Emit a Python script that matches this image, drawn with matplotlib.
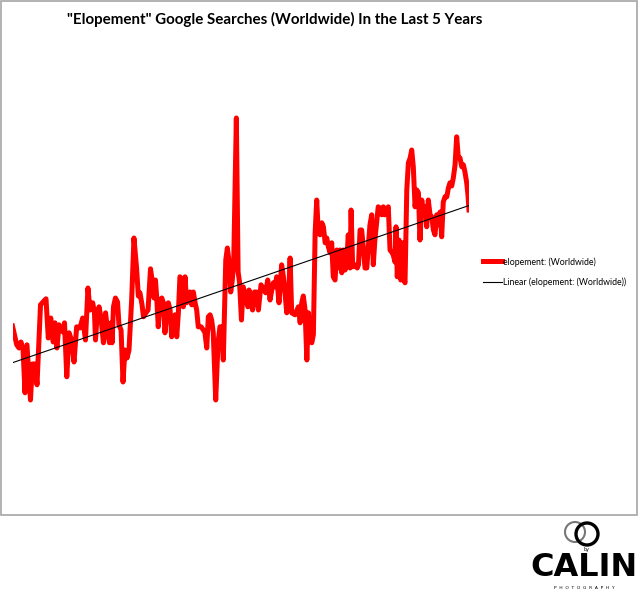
import matplotlib
matplotlib.use('Agg')

import numpy as np
import matplotlib.pyplot as plt
from matplotlib.patches import Rectangle, Ellipse

# weekly search interest (x = week index, 5 years)
weeks = [
    0.0, 2.4, 3.7, 4.8, 6.0, 7.1, 8.2, 10.2, 11.3, 12.8,
    13.9, 15.9, 17.3, 19.0, 20.3, 21.7, 23.1, 24.1, 25.2, 26.4,
    27.5, 28.7, 29.5, 30.8, 32.1, 33.5, 34.9, 36.4, 38.3, 39.8,
    41.4, 42.8, 44.0, 45.5, 46.5, 47.1, 47.9, 49.1, 50.2, 51.6,
    52.8, 53.9, 55.0, 55.9, 56.5, 57.3, 58.4, 59.6, 60.4, 61.6,
    62.7, 63.8, 65.0, 66.1, 67.6, 68.9, 70.4, 71.4, 72.3, 73.5,
    74.3, 75.7, 76.9, 78.3, 79.2, 80.3, 81.1, 81.8, 82.7, 83.7,
    84.7, 85.6, 86.5, 87.5, 88.4, 89.4, 90.3, 91.2, 92.2, 93.2,
    94.1, 95.0, 96.0, 96.9, 97.9, 98.8, 99.7, 100.7, 101.7, 102.6,
    103.6, 104.5, 105.4, 107.0, 108.3, 109.2, 110.2, 111.1, 112.1, 113.0,
    113.9, 115.3, 116.2, 116.8, 117.7, 118.7, 119.6, 121.0, 121.9, 122.9,
    123.8, 124.7, 125.5, 127.0, 128.0, 128.8, 129.9, 130.9, 132.2, 133.5,
    134.2, 135.3, 136.2, 137.3, 138.4, 139.5, 141.0, 142.1, 143.6, 144.8,
    146.1, 147.1, 148.0, 148.9, 149.9, 151.2, 152.7, 153.7, 154.6, 155.6,
    156.5, 157.5, 158.4, 160.3, 161.4, 162.2, 163.2, 164.1, 165.0, 166.0,
    167.0, 167.9, 168.9, 169.8, 170.7, 171.7, 172.6, 173.5, 174.5, 175.5,
    176.4, 177.4, 178.3, 179.2, 180.2, 181.1, 182.0, 183.0, 184.0, 184.9,
    185.8, 186.8, 187.7, 188.7, 189.6, 190.5, 191.5, 192.1, 193.0, 194.3,
    195.6, 196.3, 197.2, 198.1, 199.0, 200.0, 201.0, 201.9, 202.8, 203.8,
    204.7, 205.6, 206.6, 207.5, 208.5, 209.5, 210.4, 211.3, 212.3, 213.2,
    214.2, 215.1, 216.0, 217.0, 217.6, 218.3, 219.3, 220.3, 221.2, 222.1,
    222.7, 223.7, 224.6, 225.6, 226.5, 227.4, 228.4, 229.4, 230.3, 231.2,
    232.2, 233.1, 234.1, 235.0, 235.9, 236.9, 237.9, 238.8, 239.7, 240.7,
    241.6, 242.6, 243.5, 244.4, 245.4, 246.4, 247.3, 248.2, 249.2, 250.1,
    251.1, 252.0, 252.9, 253.9, 254.9, 255.8, 256.7, 257.7, 258.4, 259.0,
]

interest = [
    48.0, 43.3, 42.5, 44.0, 42.0, 31.3, 43.3, 29.5, 38.5, 38.5,
    33.3, 53.3, 54.0, 54.8, 45.0, 50.0, 44.0, 48.8, 42.5, 48.3,
    47.0, 46.5, 48.8, 35.3, 46.3, 44.5, 39.0, 47.8, 47.5, 50.0,
    44.5, 57.5, 52.0, 53.8, 51.3, 44.5, 50.0, 52.8, 50.0, 43.8,
    51.3, 47.0, 43.8, 48.8, 43.8, 52.8, 55.0, 54.0, 48.3, 47.0,
    34.0, 42.0, 40.0, 42.0, 54.5, 70.0, 62.5, 55.5, 56.3, 53.3,
    50.3, 51.3, 52.0, 62.3, 59.5, 55.0, 59.5, 55.3, 47.8, 54.5,
    55.0, 53.8, 46.3, 51.3, 53.8, 52.0, 45.3, 47.8, 50.8, 45.3,
    51.3, 60.3, 59.5, 52.8, 60.3, 53.8, 56.3, 56.5, 53.3, 56.5,
    53.8, 52.0, 47.8, 47.8, 47.0, 46.3, 42.5, 50.3, 50.8, 49.5,
    46.3, 29.5, 39.5, 44.5, 47.8, 47.8, 39.5, 64.5, 67.5, 64.0,
    56.5, 59.5, 63.8, 100.0, 61.5, 59.0, 49.5, 57.8, 55.3, 52.8,
    57.0, 53.8, 52.0, 56.5, 56.5, 52.0, 58.3, 57.5, 56.3, 59.5,
    54.5, 57.0, 58.8, 57.8, 60.3, 53.8, 63.3, 60.3, 56.3, 51.3,
    53.8, 65.0, 51.3, 50.8, 52.0, 52.8, 48.8, 53.8, 55.5, 52.0,
    39.5, 51.3, 45.8, 43.8, 45.8, 71.3, 79.5, 71.3, 70.8, 73.8,
    72.8, 68.8, 70.0, 67.8, 66.3, 68.8, 60.3, 59.5, 67.0, 62.5,
    67.0, 61.3, 67.0, 62.0, 63.8, 70.8, 62.5, 77.0, 62.8, 63.3,
    62.5, 63.3, 72.0, 72.0, 67.8, 62.5, 62.5, 67.8, 73.3, 75.8,
    63.3, 69.5, 73.8, 77.8, 77.5, 75.8, 77.8, 75.8, 77.0, 77.8,
    67.0, 66.5, 65.8, 64.0, 72.8, 60.3, 69.5, 59.5, 68.8, 59.5,
    58.8, 82.0, 88.8, 90.0, 92.0, 87.8, 77.8, 82.0, 81.3, 69.5,
    79.5, 76.3, 77.8, 72.8, 79.5, 75.8, 75.3, 72.0, 70.8, 75.8,
    73.3, 76.5, 70.3, 79.0, 80.3, 80.3, 82.5, 83.8, 83.0, 85.0,
    88.3, 95.3, 90.3, 90.0, 87.8, 88.3, 86.5, 83.8, 80.8, 77.0,
]

title = '"Elopement" Google Searches (Worldwide) In the Last 5 Years'
series_name = 'elopement: (Worldwide)'
trend_name = 'Linear (elopement: (Worldwide))'

W, H = 640, 593


def fx(px):
    return px / W


def fy(py):
    return 1 - py / H


fig = plt.figure(figsize=(W / 100, H / 100), dpi=100)
fig.patch.set_facecolor('white')

# chart area border
fig.patches.append(Rectangle((fx(1), fy(515)), fx(637) - fx(1), fy(1) - fy(515),
                             transform=fig.transFigure, fill=False,
                             edgecolor='#a6a6a6', linewidth=1.2))

ax = fig.add_axes([fx(12.5), fy(420), fx(469) - fx(12.5), fy(100) - fy(420)])
x = np.array(weeks)
y = np.array(interest)

ax.plot(x, y, color='#ff0000', linewidth=3.6, solid_joinstyle='round',
        label=series_name, zorder=2)

slope, intercept = np.polyfit(x, y, 1)
ax.plot([x[0], x[-1]], [intercept + slope * x[0], intercept + slope * x[-1]],
        color='black', linewidth=0.8, label=trend_name, zorder=3)

ax.set_xlim(0, 259)
ax.set_ylim(24.5, 104.5)
ax.axis('off')

fig.text(fx(274.5), fy(19), title, ha='center', va='center',
         fontsize=10.9, fontweight='bold', family='Lato')

leg = fig.legend(loc='upper left', bbox_to_anchor=(fx(483), fy(257)),
                 frameon=False, handlelength=2.2, handletextpad=0.05,
                 labelspacing=1.3, borderaxespad=0, borderpad=0,
                 prop={'family': 'Lato', 'size': 6.3})

# logo
fig.patches.append(Ellipse((fx(575), fy(532)), 20 / W, 20 / H,
                           transform=fig.transFigure, fill=False,
                           edgecolor='#777777', linewidth=1.5))
fig.patches.append(Ellipse((fx(587), fy(534)), 22 / W, 22 / H,
                           transform=fig.transFigure, fill=False,
                           edgecolor='black', linewidth=2.4))
fig.text(fx(586), fy(549), 'by', ha='center', va='center', fontsize=3.5,
         family='DejaVu Sans')
fig.text(fx(584), fy(567), 'CALIN', ha='center', va='center', fontsize=23,
         fontweight='bold', family='DejaVu Sans')
fig.text(fx(584), fy(588), '  '.join('PHOTOGRAPHY'), ha='center', va='center',
         fontsize=3.2, family='DejaVu Sans')

plt.savefig('out.png', dpi=100)
plt.close()
